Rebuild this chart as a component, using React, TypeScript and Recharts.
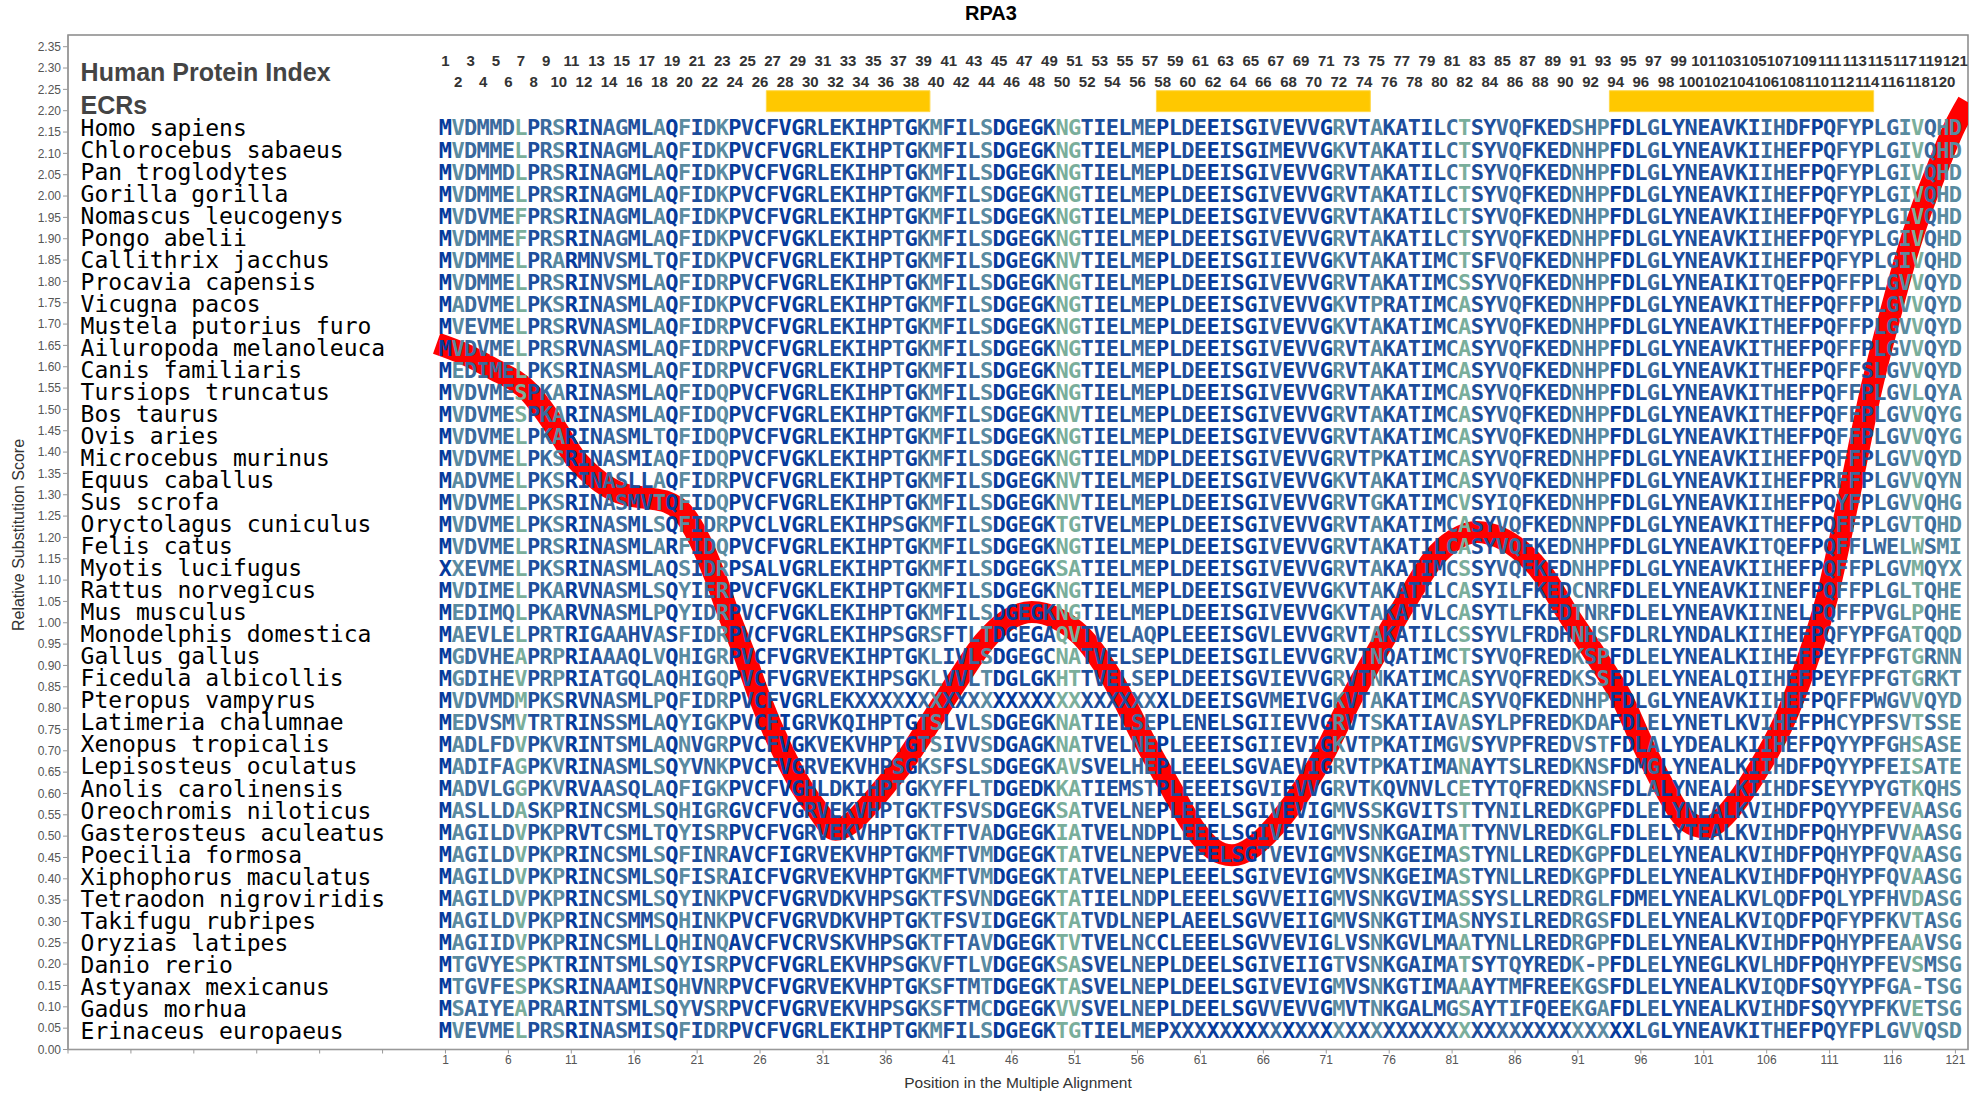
import React from "react";
import { ComposedChart, Line, Scatter, XAxis, YAxis, ReferenceArea } from "recharts";

// --- data -------------------------------------------------------------------

const speciesNames = [
  "Homo sapiens", "Chlorocebus sabaeus", "Pan troglodytes", "Gorilla gorilla",
  "Nomascus leucogenys", "Pongo abelii", "Callithrix jacchus", "Procavia capensis",
  "Vicugna pacos", "Mustela putorius furo", "Ailuropoda melanoleuca", "Canis familiaris",
  "Tursiops truncatus", "Bos taurus", "Ovis aries", "Microcebus murinus",
  "Equus caballus", "Sus scrofa", "Oryctolagus cuniculus", "Felis catus",
  "Myotis lucifugus", "Rattus norvegicus", "Mus musculus", "Monodelphis domestica",
  "Gallus gallus", "Ficedula albicollis", "Pteropus vampyrus", "Latimeria chalumnae",
  "Xenopus tropicalis", "Lepisosteus oculatus", "Anolis carolinensis", "Oreochromis niloticus",
  "Gasterosteus aculeatus", "Poecilia formosa", "Xiphophorus maculatus", "Tetraodon nigroviridis",
  "Takifugu rubripes", "Oryzias latipes", "Danio rerio", "Astyanax mexicanus",
  "Gadus morhua", "Erinaceus europaeus",
];

const sequences = [
  "MVDMMDLPRSRINAGMLAQFIDKPVCFVGRLEKIHPTGKMFILSDGEGKNGTIELMEPLD" + "EEISGIVEVVGRVTAKATILCTSYVQFKEDSHPFDLGLYNEAVKIIHDFPQFYPLGIVQHD",
  "MVDMMELPRSRINAGMLAQFIDKPVCFVGRLEKIHPTGKMFILSDGEGKNGTIELMEPLD" + "EEISGIMEVVGKVTAKATILCTSYVQFKEDNHPFDLGLYNEAVKIIHEFPQFYPLGIVQHD",
  "MVDMMDLPRSRINAGMLAQFIDKPVCFVGRLEKIHPTGKMFILSDGEGKNGTIELMEPLD" + "EEISGIVEVVGRVTAKATILCTSYVQFKEDNHPFDLGLYNEAVKIIHEFPQFYPLGIVQHD",
  "MVDMMELPRSRINAGMLAQFIDKPVCFVGRLEKIHPTGKMFILSDGEGKNGTIELMEPLD" + "EEISGIVEVVGRVTAKATILCTSYVQFKEDNHPFDLGLYNEAVKIIHEFPQFYPLGIVQHD",
  "MVDVMEFPRSRINAGMLAQFIDKPVCFVGRLEKIHPTGKMFILSDGEGKNGTIELMEPLD" + "EEISGIVEVVGRVTAKATILCTSYVQFKEDNHPFDLGLYNEAVKIIHEFPQFYPLGIVQHD",
  "MVDMMEFPRSRINAGMLAQFIDKPVCFVGKLEKIHPTGKMFILSDGEGKNGTIELMEPLD" + "EEISGIVEVVGRVTAKATILCTSYVQFKEDNHPFDLGLYNEAVKIIHEFPQFYPLGIVQHD",
  "MVDMMELPRARMNVSMLTQFIDKPVCFVGRLEKIHPTGKMFILSDGEGKNVTIELMEPLD" + "EEISGIIEVVGKVTAKATIMCTSFVQFKEDNHPFDLGLYNEAVKIIHEFPQFYPLGIVQHD",
  "MVDMMELPRSRINVSMLAQFIDRPVCFVGRLEKIHPTGKMFILSDGEGKNGTIELMEPLD" + "EEISGIVEVVGRVTAKATIMCSSYVQFKEDNHPFDLGLYNEAIKITQEFPQFFPLGVVQYD",
  "MADVMELPKSRINASMLAQFIDKPVCFVGRLEKIHPTGKMFILSDGEGKNGTIELMEPLD" + "EEISGIVEVVGKVTPRATIMCASYVQFKEDNHPFDLGLYNEAVKITHEFPQFFPLGVVQYD",
  "MVEVMELPRSRVNASMLAQFIDRPVCFVGRLEKIHPTGKMFILSDGEGKNGTIELMEPLD" + "EEISGIVEVVGKVTAKATIMCASYVQFKEDNHPFDLGLYNEAVKITHEFPQFFPLGVVQYD",
  "MVDVMELPRSRVNASMLAQFIDRPVCFVGRLEKIHPTGKMFILSDGEGKNGTIELMEPLD" + "EEISGIVEVVGRVTAKATIMCASYVQFKEDNHPFDLGLYNEAVKITHEFPQFFPLGVVQYD",
  "MEDIMELPKSRINASMLAQFIDRPVCFVGRLEKIHPTGKMFILSDGEGKNGTIELMEPLD" + "EEISGIVEVVGRVTAKATIMCASYVQFKEDNHPFDLGLYNEAVKITHEFPQFFSLGVVQYD",
  "MVDVMESPKARINASMLAQFIDQPVCFVGRLEKIHPTGKMFILSDGEGKNGTIELMEPLD" + "EEISGIVEVVGRVTAKATIMCASYVQFKEDNHPFDLGLYNEAVKITHEFPQFFPLGVLQYA",
  "MVDVMESPKARINASMLAQFIDQPVCFVGRLEKIHPTGKMFILSDGEGKNVTIELMEPLD" + "EEISGIVEVVGRVTAKATIMCASYVQFKEDNHPFDLGLYNEAVKITHEFPQFFPLGVVQYG",
  "MVDVMELPKARINASMLTQFIDQPVCFVGRLEKIHPTGKMFILSDGEGKNGTIELMEPLD" + "EEISGIVEVVGRVTAKATIMCASYVQFKEDNHPFDLGLYNEAVKITHEFPQFFPLGVVQYG",
  "MVDVMELPKSRINASMIAQFIDQPVCFVGKLEKIHPTGKMFILSDGEGKNGTIELMDPLD" + "EEISGIVEVVGRVTPKATIMCASYVQFREDNHPFDLGLYNEAVKIIHEFPQFFPLGVVQYD",
  "MADVMELPKSRINASLLAQFIDRPVCFVGRLEKIHPTGKMFILSDGEGKNVTIELMEPLD" + "EEISGIVEVVGKVTAKATIMCASYVQFKEDNHPFDLGLYNEAVKIIHEFPRFFPLGVVQYN",
  "MVDVMELPKSRINASMVTQFIDQPVCFVGRLEKIHPTGKMFILSDGEGKNVTIELMEPLD" + "EEISGIVEVVGRVTGKATIMCVSYIQFKEDNHPFDLGLYNEAVKIIHEFPQYFPLGVVQHG",
  "MVDVMELPKSRINASMLSQFIDRPVCLVGRLEKIHPSGKMFILSDGEGKTGTVELMEPLD" + "EEISGIVEVVGRVTAKATIMCASYVQFKEDNNPFDLGLYNEAVKITHEFPQFFPLGVTQHD",
  "MVDVMELPRSRINASMLARFIDQPVCFVGRLEKIHPTGKMFILSDGEGKNGTIELMEPLD" + "EEISGIVEVVGRVTAKATILCASYVQFKEDNHPFDLGLYNEAVKITQEFPQFFLWELWSMI",
  "XXEVMELPKSRINASMLAQSIDRPSALVGRLEKIHPTGKMFILSDGEGKSATIELMEPLD" + "EEISGIVEVVGRVTAKATIMCSSYVQFKEDNHPFDLGLYNEAVKIIHEFPQFFPLGVMQYX",
  "MVDIMELPKARVNASMLSQYIERPVCFVGKLEKIHPTGKMFILSDGEGKNGTIELMEPLD" + "EEISGIVEVVGKVTAKATILCASYILFKEDCNRFDLELYNEAVKIINEFPQFFPLGLTQHE",
  "MEDIMQLPKARVNASMLPQYIDRPVCFVGKLEKIHPTGKMFILSDGEGKNGTIELMEPLD" + "EEISGIVEVVGKVTAKATVLCASYTLFKEDTNRFDLELYNEAVKIINELPQFFPVGLPQHE",
  "MAEVLELPRTRIGAAHVASFIDRPVCFVGRLEKIHPSGRSFTLTDGEGAQVTVELAQPLE" + "EEISGVLEVVGRVTAKATILCSSYVLFRDHNHSFDLRLYNDALKIIHEFPQFYPFGATQQD",
  "MGDVHEAPRPRIAAAQLVQHIGRPVCFVGRVEKIHPTGKLIVLSDGEGCNATVELSEPLD" + "EEISGILEVVGRVTNQATIMCTSYVQFREDKSPFDLELYNEALKIIHEFPEYFPFGTGRNN",
  "MGDIHEVPRPRIATGQLAQHIGQPVCFVGRVEKIHPSGKLVVLTDGLGKHTTVELSEPLD" + "EEISGVIEVVGRVTNKATIMCASYVQFREDKSSFDLELYNEALQIIHEFPEYFPFGTGRKT",
  "MVDVMDMPKSRVNASMLPQFIDRPVCFVGRLEKXXXXXXXXXXXXXXXXXXXXXXXXXLD" + "EEISGVMEIVGKVTAKATIMCASYVQFKEDNHPFDLGLYNEAVKIIHEFPQFFPWGVVQYD",
  "MEDVSMVTRTRINSSMLAQYIGKPVCFIGRVKQIHPTGTSLVLSDGEGKNATIELSEPLE" + "NELSGIIEVVGRVTSKATIAVASYLPFREDKDAFDLELYNETLKVIHEFPHCYPFSVTSSE",
  "MADLFDVPKVRINTSMLAQNVGRPVCFVGKVEKVHPTGTSIVVSDGAGKNATVELNEPLE" + "EEISGIIEVIGKVTPKATIMGVSYVPFREDVSTFDLALYDEALKIIHEFPQYYPFGHSASE",
  "MADIFAGPKVRINASMLSQYVNKPVCFVGRVEKVHPSGKSFSLSDGEGKAVSVELHEPLE" + "EELSGVAEVIGRVTPKATIMANAYTSLREDKNSFDMGLYNEALKIIHDFPQYYPFEISATE",
  "MADVLGGPKVRVAASQLAQFIGKPVCFVGHLDKIHPTGKYFFLTDGEDKKATIEMSTPLE" + "EEISGVIEVVGRVTKQVNVLCETYTQFREDKNSFDLALYNEALKIIHDFSEYYPYGTKQHS",
  "MASLLDASKPRINCSMLSQHIGRGVCFVGRVEKVHPTGKTFSVSDGEGKSATVELNEPLE" + "EELSGIVEVIGMVSSKGVITSTTYNILREDKGPFDLELYNEALKVIHDFPQYYPFEVAASG",
  "MAGILDVPKPRVTCSMLTQYISRPVCFVGRVEKVHPTGKTFTVADGEGKIATVELNDPLE" + "EELSGIVEVIGMVSNKGAIMATTYNVLREDKGLFDLELYTEALKVIHDFPQHYPFVVAASG",
  "MAGILDVPKPRINCSMLSQFINRAVCFIGRVEKVHPTGKMFTVMDGEGKTATVELNEPVE" + "EELSGTVEVIGMVSNKGEIMASTYNLLREDKGPFDLELYNEALKVIHDFPQHYPFQVAASG",
  "MAGILDVPKPRINCSMLSQFISRAICFVGRVEKVHPTGKMFTVMDGEGKTATVELNEPLE" + "EELSGIVEVIGMVSNKGEIMASTYNLLREDKGPFDLELYNEALKVIHDFPQHYPFQVAASG",
  "MAGILDVPKPRINCSMLSQYINKPVCFVGRVDKVHPSGKTFSVNDGEGKTATIELNDPLE" + "EELSGVVEIIGMVSNKGVIMASSYSLLREDRGLFDMELYNEALKVLQDFPQLYPFHVDASG",
  "MAGILDVPKPRINCSMMSQHINKPVCFVGRVDKVHPTGKTFSVIDGEGKTATVDLNEPLA" + "EELSGVVEIIGMVSNKGTIMASNYSILREDRGSFDLELYNEALKVIQDFPQFYPFKVTASG",
  "MAGIIDVPKPRINCSMLLQHINQAVCFVCRVSKVHPSGKTFTAVDGEGKTVTVELNCCLE" + "EELSGVVEVIGLVSNKGVLMAATYNLLREDRGPFDLELYNEALKVIHDFPQHYPFEAAVSG",
  "MTGVYESPKTRINTSMLSQYISRPVCFVGRLEKVHPSGKVFTLVDGEGKSASVELNEPLD" + "EELSGIVEIIGTVSNKGAIMATSYTQYREDK-PFDLELYNEGLKVLHDFPQHYPFEVSMSG",
  "MTGVFESPKSRINAAMISQHVNRPVCFVGRVEKVHPTGKSFTMTDGEGKTASVELNEPLD" + "EELSGIVEVIGMVSNKGTIMAAAYTMFREEKGSFDLELYNEALKVIQDFSQYYPFGA-TSG",
  "MSAIYEAPRARINTSMLSQYVSRPVCFVGRVEKVHPSGKSFTMCDGEGKVVSVELNEPLD" + "EELSGVVEVVGMVTNKGALMGSAYTIFQEEKGAFDLELYNEALKVIHDFSQYYPFKVETSG",
  "MVEVMELPRSRINASMISQFIDRPVCFVGRLEKIHPTGKMFILSDGEGKTGTIELMEPXX" + "XXXXXXXXXXXXXXXXXXXXXXXXXXXXXXXXXXXLGLYNEAVKITHEFPQYFPLGVVQSD",
];

// conservation class of each alignment column (0 = most conserved / darkest)
const columnConservation = [
  0, 3, 2, 2, 2, 2, 4, 1, 2, 3,
  0, 1, 1, 2, 2, 1, 1, 3, 0, 3,
  1, 2, 3, 0, 1, 0, 1, 0, 0, 1,
  1, 1, 1, 1, 1, 1, 2, 0, 2, 3,
  1, 1, 2, 3, 0, 0, 1, 0, 1, 4,
  4, 1, 1, 1, 1, 2, 2, 0, 1, 1,
  1, 0, 1, 0, 0, 1, 2, 0, 1, 1,
  0, 3, 1, 1, 3, 1, 1, 1, 1, 1,
  2, 4, 1, 1, 2, 2, 1, 1, 1, 1,
  3, 2, 3, 0, 0, 1, 2, 0, 1, 1,
  1, 1, 1, 1, 1, 2, 2, 1, 1, 0,
  1, 2, 2, 1, 2, 2, 3, 4, 2, 3, 3,
];
const conservationColors = ["#053a9c", "#1c4d9c", "#3a699d", "#5a8ba0", "#7aae9b"];

const ecrStart = [27, 58, 94];
const ecrEnd = [39, 74, 114];

// red curve: relative substitution score along the alignment
const scorePositions = [
  0.3, 2.5, 4.6, 7.7, 9.7, 11.2, 12.8, 14.8, 16.8, 18.6,
  19.8, 21.2, 22.4, 23.5, 24.7, 25.9, 27.7, 29.3, 30.6, 32,
  33.2, 34.4, 36, 37.5, 39.6, 41.8, 43.8, 45.6, 47.6, 49.6,
  51.5, 53.9, 56.6, 58.6, 60.6, 62, 63.5, 65.2, 66.8, 68.3,
  70.6, 73, 75.9, 77.9, 79.5, 81.2, 83, 84.8, 86.6, 88.2,
  90.1, 92.7, 94.5, 96.1, 97.9, 99.2, 100.3, 101.3, 102.4, 103.6,
  105.4, 107.4, 109.1, 110.8, 112.5, 114.3, 115.8, 117, 118.2, 119.5,
  120.9, 122,
];
const scoreValues = [
  1.655, 1.63, 1.598, 1.539, 1.46, 1.39, 1.342, 1.305, 1.293, 1.283,
  1.26, 1.194, 1.11, 1.02, 0.93, 0.83, 0.705, 0.615, 0.56, 0.515,
  0.53, 0.565, 0.62, 0.675, 0.77, 0.87, 0.955, 1.005, 1.025, 1.01,
  0.97, 0.873, 0.72, 0.615, 0.514, 0.47, 0.455, 0.475, 0.52, 0.575,
  0.68, 0.823, 0.976, 1.077, 1.15, 1.195, 1.213, 1.2, 1.165, 1.115,
  1.025, 0.91, 0.823, 0.718, 0.612, 0.55, 0.525, 0.52, 0.54, 0.58,
  0.66, 0.77, 0.9, 1.06, 1.29, 1.546, 1.72, 1.85, 1.96, 2.06,
  2.16, 2.22,
];

const yTicks = [
  0.0, 0.05, 0.1, 0.15, 0.2, 0.25, 0.3, 0.35, 0.4, 0.45, 0.5, 0.55,
  0.6, 0.65, 0.7, 0.75, 0.8, 0.85, 0.9, 0.95, 1.0, 1.05, 1.1, 1.15,
  1.2, 1.25, 1.3, 1.35, 1.4, 1.45, 1.5, 1.55, 1.6, 1.65, 1.7, 1.75,
  1.8, 1.85, 1.9, 1.95, 2.0, 2.05, 2.1, 2.15, 2.2, 2.25, 2.3, 2.35,
];
const xTicks = [
  -29, -24, -19, -14, -9, -4, 1, 6, 11, 16, 21, 26, 31, 36, 41, 46,
  51, 56, 61, 66, 71, 76, 81, 86, 91, 96, 101, 106, 111, 116, 121,
];
const alignmentPositions = Array.from({ length: 121 }, (_, i) => i + 1);

// --- derived tables ---------------------------------------------------------

const scoreData = scorePositions.map((x, i) => ({ x, v: scoreValues[i] }));

const letterCells = sequences.flatMap((seq, row) =>
  seq.split("").map((ch, i) => ({ x: i + 1, row, ch, level: columnConservation[i] ?? 1 }))
);

const nameCells = speciesNames.map((name, row) => ({ x: -28, row, name }));

// odd numbers on the upper header line, even ones below
const numberCells = alignmentPositions.map((p) => ({ x: p, row: p % 2 === 1 ? -3.04 : -2.07, label: String(p) }));

const headerCells = [
  { x: -28, row: -2.52, label: "Human Protein Index" },
  { x: -28, row: -1.0, label: "ECRs" },
];

const SANS = "'Liberation Sans', Arial, sans-serif";
const MONO = "'DejaVu Sans Mono', monospace";

function LetterMark(props: any) {
  const { cx, cy, payload } = props;
  if (cx == null || cy == null) return null;
  return (
    <text x={cx} y={cy + 8} textAnchor="middle" fontFamily={MONO} fontWeight="bold" fontSize={22}
      fill={conservationColors[payload.level]}>
      {payload.ch}
    </text>
  );
}

function NameMark(props: any) {
  const { cx, cy, payload } = props;
  if (cx == null || cy == null) return null;
  return (
    <text x={cx} y={cy + 8.4} fontFamily={MONO} fontSize={23} fill="#000">{payload.name}</text>
  );
}

function NumberMark(props: any) {
  const { cx, cy, payload } = props;
  if (cx == null || cy == null) return null;
  return (
    <text x={cx} y={cy + 5.4} textAnchor="middle" fontFamily={SANS} fontWeight="bold" fontSize={15} fill="#333">
      {payload.label}
    </text>
  );
}

function HeaderMark(props: any) {
  const { cx, cy, payload } = props;
  if (cx == null || cy == null) return null;
  return (
    <text x={cx} y={cy + 9} fontFamily={SANS} fontWeight="bold" fontSize={25} fill="#444">{payload.label}</text>
  );
}

export default function App() {
  return (
    <div style={{ position: "absolute", left: 0, top: 0, width: 1982, height: 1100, background: "#fff" }}>
      <div style={{ position: "absolute", left: 0, top: 2, width: 1982, textAlign: "center",
        fontFamily: SANS, fontWeight: "bold", fontSize: 20, color: "#000" }}>
        RPA3
      </div>
      <ComposedChart width={1982} height={1100} margin={{ top: 35, right: 14, bottom: 0, left: 0 }}>
        <XAxis xAxisId="x" type="number" dataKey="x" domain={[-29, 122]} ticks={xTicks} interval={0}
          allowDataOverflow height={50.5} tickSize={4}
          tickFormatter={(v: number) => (v >= 1 ? String(v) : "")}
          tick={{ fill: "#555", fontSize: 12, fontFamily: SANS }}
          axisLine={{ stroke: "#999" }} tickLine={{ stroke: "#999" }} />
        <YAxis yAxisId="score" orientation="left" type="number" domain={[0, 2.3774]} ticks={yTicks} interval={0}
          allowDataOverflow width={68} tickSize={5}
          tickFormatter={(v: number) => v.toFixed(2)}
          tick={{ fill: "#555", fontSize: 12, fontFamily: SANS }}
          axisLine={{ stroke: "#999" }} tickLine={{ stroke: "#999" }} />
        <YAxis yAxisId="rows" orientation="right" width={0} type="number" dataKey="row" domain={[-4.2, 41.87]}
          reversed hide allowDataOverflow />

        <ReferenceArea xAxisId="x" yAxisId="score" x1={-29} x2={122} y1={0} y2={2.3774}
          fill="none" stroke="#888" strokeWidth={1.5} />
        {ecrStart.map((s, i) => (
          <ReferenceArea key={s} xAxisId="x" yAxisId="rows" x1={s - 0.5} x2={ecrEnd[i] + 0.5} y1={-1.67} y2={-0.72}
            fill="#ffc800" fillOpacity={1} stroke="#ffd84a" strokeWidth={1} />
        ))}

        <Line xAxisId="x" yAxisId="score" data={scoreData} dataKey="v" type="monotone" stroke="#ff0000"
          strokeWidth={22} dot={false} activeDot={false} isAnimationActive={false} />

        <Scatter xAxisId="x" yAxisId="rows" data={headerCells} shape={HeaderMark} isAnimationActive={false} />
        <Scatter xAxisId="x" yAxisId="rows" data={numberCells} shape={NumberMark} isAnimationActive={false} />
        <Scatter xAxisId="x" yAxisId="rows" data={nameCells} shape={NameMark} isAnimationActive={false} />
        <Scatter xAxisId="x" yAxisId="rows" data={letterCells} shape={LetterMark} isAnimationActive={false} />
      </ComposedChart>
      <div style={{ position: "absolute", left: 19, top: 535, width: 0, height: 0 }}>
        <div style={{ position: "absolute", transform: "translate(-50%, -50%) rotate(-90deg)", whiteSpace: "nowrap",
          fontFamily: SANS, fontSize: 16, color: "#333" }}>
          Relative Substitution Score
        </div>
      </div>
      <div style={{ position: "absolute", left: 1018, top: 1083, width: 0, height: 0 }}>
        <div style={{ position: "absolute", transform: "translate(-50%, -50%)", whiteSpace: "nowrap",
          fontFamily: SANS, fontSize: 15.5, color: "#333" }}>
          Position in the Multiple Alignment
        </div>
      </div>
    </div>
  );
}
